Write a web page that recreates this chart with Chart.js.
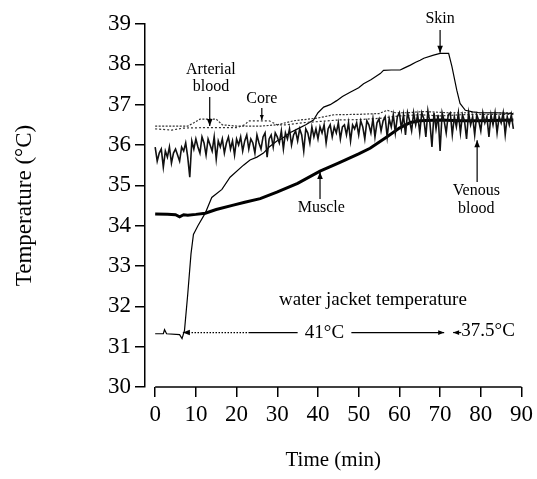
<!DOCTYPE html>
<html>
<head>
<meta charset="utf-8">
<script src="https://cdn.jsdelivr.net/npm/chart.js@4.4.1/dist/chart.umd.min.js"></script>
<style>
    html, body { margin: 0; padding: 0; background: #fff; }
</style>
</head>
<body>
<canvas id="tempChart" width="537" height="479"></canvas>
<script>
// axis ticks
const xTicks = [0, 10, 20, 30, 40, 50, 60, 70, 80, 90];
const yTicks = [30, 31, 32, 33, 34, 35, 36, 37, 38, 39];

// skin (thin line)
const skinTime = [0, 2, 2.3, 2.8, 6, 6.6, 7.2, 8, 8.8, 9.4, 10.5, 12.3, 13.9, 16.4, 18.4, 21.7, 23.3, 25, 26.6, 28, 29.9,
    31, 33, 35, 37, 38.9, 40, 41.4, 43, 44.6, 46, 47.9, 50, 51.2, 53, 55.3, 56.1, 58, 60.2, 61, 62.7, 64, 65.1, 66,
    68.4, 70, 72.1, 72.9, 74.1, 74.9, 76.2, 78, 80, 84, 88];
const skinTemp = [31.32, 31.32, 31.42, 31.32, 31.3, 31.2, 31.4, 32.3, 33.3, 33.78, 34.0, 34.31, 34.7, 34.9, 35.2, 35.5, 35.63, 35.7, 35.8, 35.95, 36.1,
    36.15, 36.3, 36.4, 36.5, 36.62, 36.8, 36.94, 37.0, 37.1, 37.2, 37.31, 37.42, 37.52, 37.62, 37.77, 37.85, 37.86, 37.86, 37.9, 37.98, 38.05, 38.1, 38.15,
    38.23, 38.27, 38.27, 37.95, 37.36, 37.03, 36.86, 36.82, 36.8, 36.8, 36.78];

// muscle (thick line)
const muscleTime = [0, 3, 5, 6, 7, 8, 10, 12.3, 15, 19.2, 22, 25.8, 29.9, 35, 40.5, 45, 50, 52.8, 56.9, 60, 62.7, 65, 70, 75, 80, 88];
const muscleTemp = [34.29, 34.28, 34.27, 34.22, 34.27, 34.26, 34.28, 34.31, 34.4, 34.51, 34.58, 34.67, 34.83, 35.05, 35.35, 35.55, 35.78, 35.92, 36.2, 36.42, 36.56, 36.6, 36.62, 36.6, 36.6, 36.62];

// arterial blood (dotted)
const arterialTime = [0, 8, 9.5, 11, 15, 16.5, 20, 26, 30, 34, 40, 44, 50, 55, 57, 59, 62, 66, 72, 80, 88];
const arterialTemp = [36.47, 36.47, 36.55, 36.64, 36.64, 36.5, 36.47, 36.47, 36.5, 36.6, 36.67, 36.75, 36.76, 36.78, 36.86, 36.8, 36.8, 36.83, 36.8, 36.8, 36.8];

// core (dotted)
const coreTime = [0, 4, 7, 12, 20, 22, 23, 28, 30, 32, 36, 40, 45, 50, 55, 60, 65, 70, 75, 80, 88];
const coreTemp = [36.4, 36.37, 36.42, 36.43, 36.43, 36.5, 36.6, 36.6, 36.5, 36.5, 36.55, 36.58, 36.62, 36.63, 36.66, 36.72, 36.75, 36.72, 36.75, 36.76, 36.76];

// venous blood, sampled every 0.5 min from 0 to 88
const venousStart = 0;
const venousStep = 0.5;
const venousTemp = [
    35.95, 35.6, 35.8, 35.9, 35.45, 35.85, 35.7, 35.95, 35.55, 35.8,
    35.9, 35.75, 35.6, 35.95, 35.85, 36.05, 35.7, 35.2, 36.1, 35.9,
    36.15, 35.95, 35.8, 36.2, 36.05, 35.75, 36.15, 36.0, 35.85, 36.2,
    35.65, 36.1, 35.95, 36.15, 35.8, 36.05, 36.2, 35.9, 36.1, 35.75,
    36.15, 36.0, 36.2, 35.85, 36.1, 36.25, 35.9, 36.15, 36.05, 35.8,
    36.25, 36.05, 35.9, 36.2, 36.3, 35.7, 36.15, 36.25, 35.95, 36.3,
    36.2, 36.05, 36.35, 35.9, 36.3, 36.15, 36.4, 36.0, 36.25, 36.35,
    36.1, 36.4, 36.25, 35.85, 36.4, 36.3, 36.05, 36.45, 36.2, 36.4,
    36.15, 36.45, 36.3, 36.5, 36.05, 36.4, 36.5, 36.2, 36.45, 36.3,
    36.55, 36.15, 36.45, 36.5, 36.25, 36.55, 36.1, 36.5, 36.4, 36.55,
    36.25, 36.6, 36.45, 36.15, 36.6, 36.5, 36.3, 36.65, 36.2, 36.55,
    36.65, 36.35, 36.6, 36.7, 36.2, 36.65, 36.45, 36.75, 36.3, 36.7,
    36.8, 36.4, 36.75, 36.25, 36.8, 36.6, 36.35, 36.8, 36.5, 36.75,
    36.3, 36.8, 36.65, 36.2, 36.85, 36.55, 35.95, 36.8, 36.4, 36.75,
    35.85, 36.8, 36.6, 36.3, 36.75, 36.8, 36.25, 36.7, 36.45, 36.8,
    36.3, 36.75, 36.6, 36.15, 36.8, 36.5, 36.7, 36.25, 36.75, 36.6,
    36.35, 36.8, 36.55, 36.7, 36.2, 36.75, 36.5, 36.8, 36.3, 36.7,
    36.55, 36.8, 36.25, 36.7, 36.5, 36.75, 36.4
];

const serif = '"Liberation Serif", "Times New Roman", serif';

function toPoints(times, temps) {
    return times.map((t, i) => ({ x: t, y: temps[i] }));
}

const venousPoints = venousTemp.map((v, i) => ({ x: venousStart + i * venousStep, y: v }));

// labels and arrows of the figure, in data units
const textNotes = [
    { text: 'Skin', x: 70, y: 39.12, size: 16 },
    { text: 'Arterial', x: 13.7, y: 37.86, size: 16 },
    { text: 'blood', x: 13.7, y: 37.44, size: 16 },
    { text: 'Core', x: 26.2, y: 37.14, size: 16 },
    { text: 'Muscle', x: 40.8, y: 34.44, size: 16 },
    { text: 'Venous', x: 78.9, y: 34.86, size: 16 },
    { text: 'blood', x: 78.9, y: 34.41, size: 16 },
    { text: 'water jacket temperature', x: 53.5, y: 32.16, size: 19 },
    { text: '41°C', x: 41.6, y: 31.34, size: 19 },
    { text: '37.5°C', x: 81.8, y: 31.38, size: 19 }
];
const arrowNotes = [
    { x1: 70, y1: 38.85, x2: 70, y2: 38.29, head: 7 },
    { x1: 13.4, y1: 37.19, x2: 13.4, y2: 36.47, head: 7 },
    { x1: 26.2, y1: 36.92, x2: 26.2, y2: 36.62, head: 5 },
    { x1: 40.5, y1: 34.66, x2: 40.5, y2: 35.33, head: 7 },
    { x1: 79.1, y1: 35.08, x2: 79.1, y2: 36.12, head: 7 },
    { x1: 23.3, y1: 31.35, x2: 6.8, y2: 31.35, head: 7, dotted: true },
    { x1: 35, y1: 31.35, x2: 23.3, y2: 31.35, head: 0 },
    { x1: 48.2, y1: 31.35, x2: 71, y2: 31.35, head: 6 },
    { x1: 75.2, y1: 31.35, x2: 73.2, y2: 31.35, head: 6 }
];

const figureNotes = {
    id: 'figureNotes',
    afterDatasetsDraw(chart) {
        const ctx = chart.ctx;
        const xs = chart.scales.x;
        const ys = chart.scales.y;
        const px = v => xs.getPixelForValue(v);
        const py = v => ys.getPixelForValue(v);
        ctx.save();
        ctx.strokeStyle = '#000';
        ctx.fillStyle = '#000';

        // x axis line starts at 0, not at the y axis
        ctx.lineWidth = 1.5;
        ctx.beginPath();
        ctx.moveTo(px(xTicks[0]), py(yTicks[0]));
        ctx.lineTo(px(xTicks[xTicks.length - 1]), py(yTicks[0]));
        ctx.stroke();

        arrowNotes.forEach(a => {
            const x1 = px(a.x1), y1 = py(a.y1), x2 = px(a.x2), y2 = py(a.y2);
            ctx.lineWidth = 1.2;
            ctx.setLineDash(a.dotted ? [1.5, 1.5] : []);
            ctx.beginPath();
            ctx.moveTo(x1, y1);
            ctx.lineTo(x2, y2);
            ctx.stroke();
            ctx.setLineDash([]);
            if (a.head > 0) {
                const ang = Math.atan2(y2 - y1, x2 - x1);
                const w = a.head * 0.4;
                ctx.beginPath();
                ctx.moveTo(x2, y2);
                ctx.lineTo(x2 - a.head * Math.cos(ang) + w * Math.sin(ang), y2 - a.head * Math.sin(ang) - w * Math.cos(ang));
                ctx.lineTo(x2 - a.head * Math.cos(ang) - w * Math.sin(ang), y2 - a.head * Math.sin(ang) + w * Math.cos(ang));
                ctx.closePath();
                ctx.fill();
            }
        });

        ctx.textAlign = 'center';
        ctx.textBaseline = 'middle';
        textNotes.forEach(n => {
            ctx.font = n.size + 'px ' + serif;
            ctx.fillText(n.text, px(n.x), py(n.y));
        });
        ctx.restore();
    }
};

new Chart(document.getElementById('tempChart'), {
    type: 'line',
    data: {
        datasets: [
            {
                label: 'Venous blood',
                data: venousPoints,
                borderColor: '#111',
                borderWidth: 1.6,
                pointRadius: 0
            },
            {
                label: 'Arterial blood',
                data: toPoints(arterialTime, arterialTemp),
                borderColor: '#333',
                borderWidth: 1.2,
                borderDash: [2, 1.5],
                pointRadius: 0
            },
            {
                label: 'Core',
                data: toPoints(coreTime, coreTemp),
                borderColor: '#333',
                borderWidth: 1.2,
                borderDash: [2, 2],
                pointRadius: 0
            },
            {
                label: 'Muscle',
                data: toPoints(muscleTime, muscleTemp),
                borderColor: '#000',
                borderWidth: 3,
                pointRadius: 0
            },
            {
                label: 'Skin',
                data: toPoints(skinTime, skinTemp),
                borderColor: '#000',
                borderWidth: 1.2,
                pointRadius: 0
            }
        ]
    },
    options: {
        responsive: false,
        animation: false,
        events: [],
        layout: { padding: { top: 24, right: 14, bottom: 0, left: 0 } },
        plugins: {
            legend: { display: false },
            tooltip: { enabled: false }
        },
        scales: {
            x: {
                type: 'linear',
                min: -2.5,
                max: 90,
                afterFit(scale) { scale.height = 92; },
                afterBuildTicks(scale) { scale.ticks = xTicks.map(v => ({ value: v })); },
                border: { display: false },
                grid: { drawOnChartArea: false, drawTicks: true, tickLength: 10, color: '#000', lineWidth: 1.5 },
                ticks: { color: '#000', padding: 4, maxRotation: 0, autoSkip: false, font: { family: serif, size: 23 } },
                title: {
                    display: true,
                    text: 'Time (min)',
                    color: '#000',
                    font: { family: serif, size: 21 },
                    padding: { top: 0, bottom: 6 }
                }
            },
            y: {
                min: 30,
                max: 39,
                afterFit(scale) { scale.width = 145; },
                afterBuildTicks(scale) { scale.ticks = yTicks.map(v => ({ value: v })); },
                border: { display: true, color: '#000', width: 1.5 },
                grid: { drawOnChartArea: false, drawTicks: true, tickLength: 10, color: '#000', lineWidth: 1.5 },
                ticks: { color: '#000', padding: 4, autoSkip: false, font: { family: serif, size: 23 } },
                title: {
                    display: true,
                    text: 'Temperature (°C)',
                    color: '#000',
                    font: { family: serif, size: 23 },
                    padding: { top: 11, bottom: 0 }
                }
            }
        }
    },
    plugins: [figureNotes]
});
</script>
</body>
</html>
